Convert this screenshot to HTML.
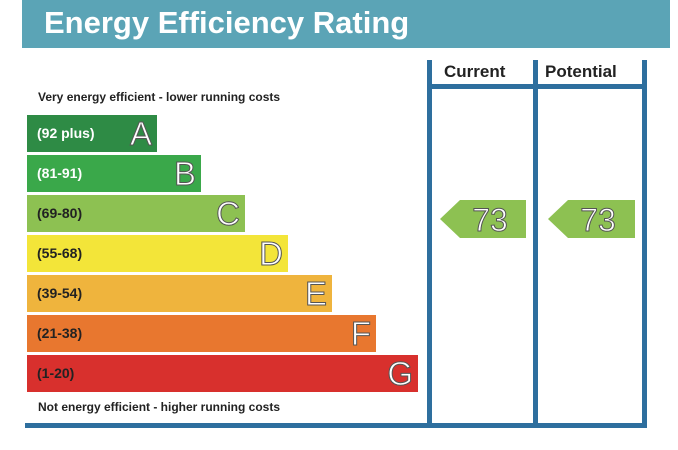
<!DOCTYPE html>
<html><head><style>
body{margin:0;width:678px;height:450px;background:#fff;position:relative;overflow:hidden;font-family:"Liberation Sans",sans-serif}
.a{position:absolute}
.hdr{left:22px;top:0;width:648px;height:48px;background:#5ba4b6;color:#fff;font-weight:bold;font-size:31px;line-height:46px;padding-left:22px;box-sizing:border-box}
.v{width:5px;background:#2e6f9e;top:60px;height:368px}
.bar{left:27px;height:37px;color:#fff;font-weight:bold;font-size:14px;line-height:37px;padding-left:10px;box-sizing:border-box}
.L{position:absolute;right:5px;top:0;font-size:33px;font-weight:normal;color:#fff;-webkit-text-stroke:1px #555;line-height:37px}
.sm{font-size:12px;font-weight:bold;color:#222}
.hd{font-size:17px;font-weight:bold;color:#222;top:62px}
</style></head><body>
<div class="a hdr">Energy Efficiency Rating</div>
<div class="a v" style="left:427px"></div>
<div class="a v" style="left:533px"></div>
<div class="a v" style="left:642px"></div>
<div class="a" style="left:427px;top:84px;width:220px;height:5px;background:#2e6f9e"></div>
<div class="a" style="left:25px;top:423px;width:622px;height:5px;background:#2e6f9e"></div>
<div class="a hd" style="left:444px">Current</div>
<div class="a hd" style="left:545px">Potential</div>
<div class="a sm" style="left:38px;top:90px">Very energy efficient - lower running costs</div>
<div class="a sm" style="left:38px;top:400px">Not energy efficient - higher running costs</div>
<div class="a bar" style="top:115px;width:130px;background:#2e8b45">(92 plus)<span class="L">A</span></div>
<div class="a bar" style="top:155px;width:174px;background:#3aa84a">(81-91)<span class="L">B</span></div>
<div class="a bar" style="top:195px;width:218px;background:#8dc152;color:#222">(69-80)<span class="L">C</span></div>
<div class="a bar" style="top:235px;width:261px;background:#f3e539;color:#222">(55-68)<span class="L">D</span></div>
<div class="a bar" style="top:275px;width:305px;background:#efb43d;color:#222">(39-54)<span class="L">E</span></div>
<div class="a bar" style="top:315px;width:349px;background:#e8772f;color:#222">(21-38)<span class="L">F</span></div>
<div class="a bar" style="top:355px;width:391px;background:#d8302d;color:#222">(1-20)<span class="L">G</span></div>
<svg class="a" style="left:0;top:0" width="678" height="450">
<polygon points="440,219 460,200 526,200 526,238 460,238" fill="#8dc152"/>
<polygon points="548,219 568,200 635,200 635,238 568,238" fill="#8dc152"/>
<text x="490" y="231" font-size="32" fill="#fff" stroke="#555" stroke-width="1" text-anchor="middle" font-family="Liberation Sans">73</text>
<text x="598" y="231" font-size="32" fill="#fff" stroke="#555" stroke-width="1" text-anchor="middle" font-family="Liberation Sans">73</text>
</svg>
</body></html>
